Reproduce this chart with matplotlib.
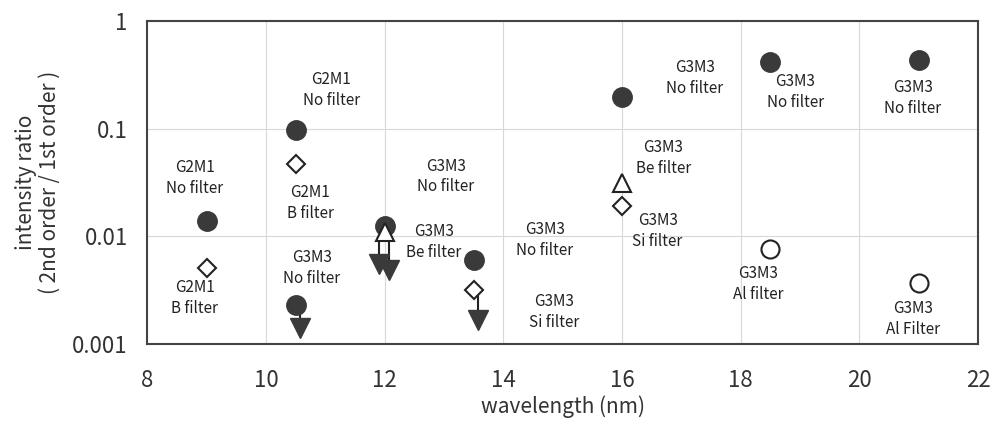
import matplotlib.pyplot as plt

plt.rcParams['font.family'] = ['Noto Sans CJK JP', 'DejaVu Sans']

# filled circles: no filter
nof_x = [9, 10.5, 10.5, 12, 13.5, 16, 18.5, 21]
nof_y = [0.014, 0.097, 0.0023, 0.0125, 0.006, 0.197, 0.42, 0.43]
# open diamonds: B / Si filter
dia_x = [9, 10.5, 13.5, 16]
dia_y = [0.0051, 0.047, 0.0032, 0.019]
# open triangles: Be filter
tri_x = [12, 16]
tri_y = [0.011, 0.031]
# open circles: Al filter
alc_x = [18.5, 21]
alc_y = [0.0076, 0.0037]
# upper limits (arrow start x, start y, tip y)
lim_x = [10.57, 11.91, 12.08, 13.57]
lim_y0 = [0.0023, 0.0098, 0.0098, 0.0032]
lim_y1 = [0.00142, 0.0055, 0.0049, 0.00167]

labels = [
    (8.8, 0.035, "G2M1\nNo filter"),
    (8.8, 0.0027, "G2M1\nB filter"),
    (11.1, 0.23, "G2M1\nNo filter"),
    (10.75, 0.0204, "G2M1\nB filter"),
    (10.77, 0.0051, "G3M3\nNo filter"),
    (13.03, 0.036, "G3M3\nNo filter"),
    (12.83, 0.0089, "G3M3\nBe filter"),
    (14.7, 0.0093, "G3M3\nNo filter"),
    (14.85, 0.0020, "G3M3\nSi filter"),
    (17.23, 0.296, "G3M3\nNo filter"),
    (16.7, 0.053, "G3M3\nBe filter"),
    (16.6, 0.0112, "G3M3\nSi filter"),
    (18.92, 0.22, "G3M3\nNo filter"),
    (18.3, 0.0036, "G3M3\nAl filter"),
    (20.9, 0.193, "G3M3\nNo filter"),
    (20.9, 0.0017, "G3M3\nAl Filter"),
]

dark = '#3a3a3a'
fig = plt.figure(figsize=(9.95, 4.28), dpi=100)
ax = fig.add_axes([0.148, 0.196, 0.835, 0.755])

# arrows for upper limits
for x, y0, y1 in zip(lim_x, lim_y0, lim_y1):
    ax.plot([x, x], [y0, y1], color='#222222', lw=1.5, zorder=3)
ax.plot(lim_x, lim_y1, 'v', ms=14, color=dark, zorder=4)
ax.plot([11.91, 12.08], [0.0098, 0.0098], color='#222222', lw=1.5, zorder=3)

ax.plot(nof_x, nof_y, 'o', ms=14, color=dark, zorder=5)
ax.plot(dia_x, dia_y, 'D', ms=9, mfc='white', mec='#222222', mew=1.5, zorder=5)
ax.plot(tri_x, tri_y, '^', ms=13, mfc='white', mec='#222222', mew=1.5, zorder=6)
ax.plot(alc_x, alc_y, 'o', ms=13, mfc='white', mec='#222222', mew=1.5, zorder=5)

for x, y, s in labels:
    ax.text(x, y, s, ha='center', va='center', fontsize=11, linespacing=1.3,
            color='#222222')

ax.set_yscale('log')
ax.set_xlim(8, 22)
ax.set_ylim(0.001, 1)
ax.set_xticks([8, 10, 12, 14, 16, 18, 20, 22])
ax.set_yticks([0.001, 0.01, 0.1, 1])
ax.set_yticklabels(['0.001', '0.01', '0.1', '1'])
ax.minorticks_off()
ax.tick_params(length=0, labelsize=16, colors='#333333')
ax.tick_params(axis='x', pad=18)
ax.tick_params(axis='y', pad=14)
ax.grid(True, color='#d8d8d8', lw=0.8)
ax.set_axisbelow(True)
for sp in ax.spines.values():
    sp.set_color('#444444')
    sp.set_linewidth(1.5)
ax.set_xlabel('wavelength (nm)', fontsize=15, color='#333333', labelpad=2)
ax.set_ylabel('intensity ratio\n( 2nd order / 1st order )', fontsize=15,
              color='#333333', labelpad=8, linespacing=1.1)

fig.savefig('out.png', dpi=100)
